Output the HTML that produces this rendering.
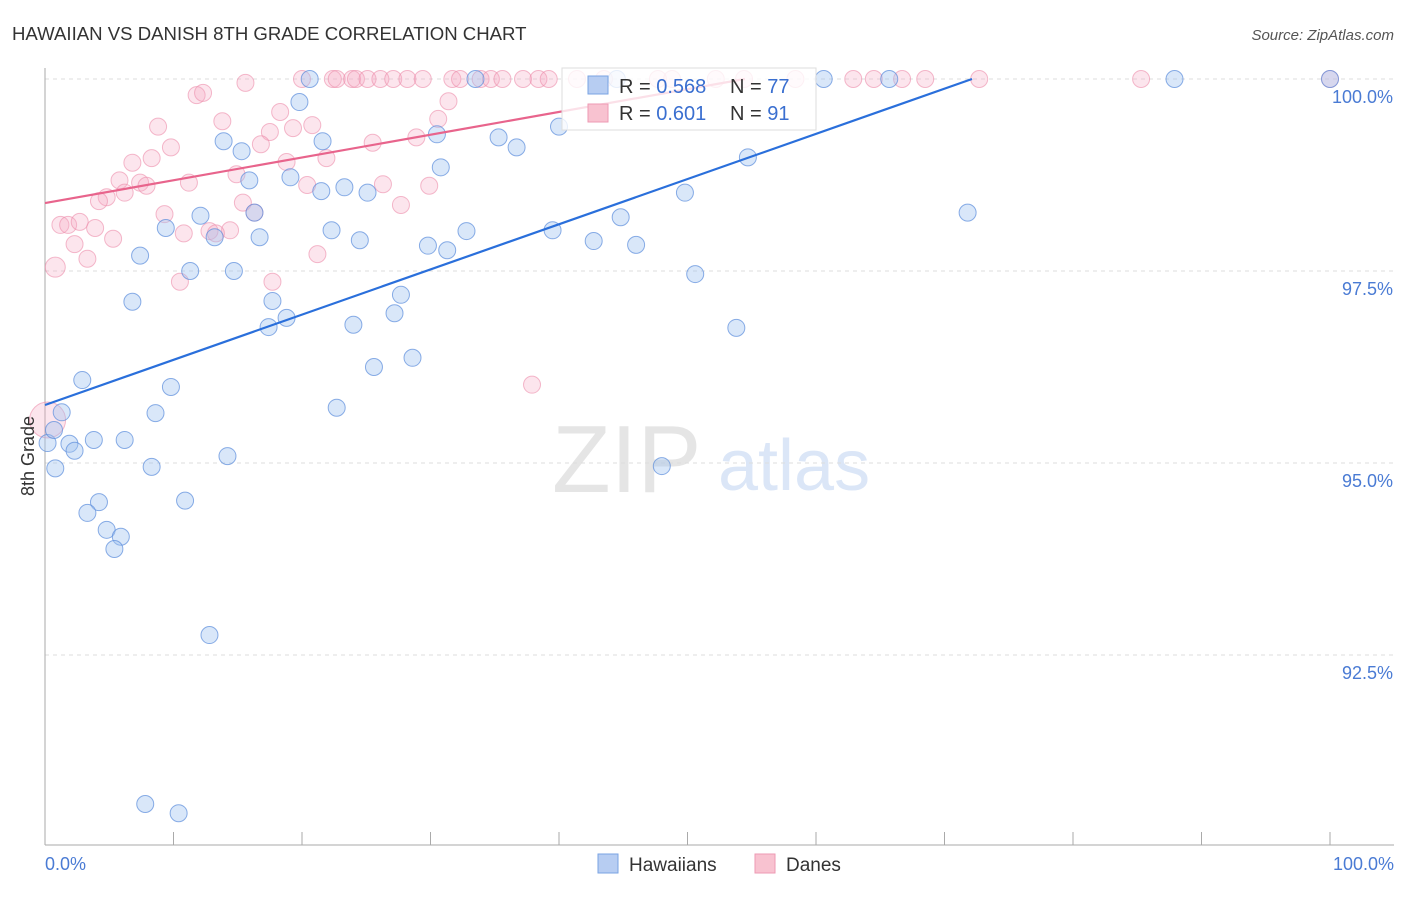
<!DOCTYPE html>
<html><head><meta charset="utf-8"><style>
body{margin:0;background:#fff;font-family:"Liberation Sans",sans-serif;}
svg text{font-family:"Liberation Sans",sans-serif;}
</style></head><body>
<svg id="chart" width="1406" height="892" xmlns="http://www.w3.org/2000/svg">
<text x="12" y="40" font-size="18.6" fill="#333">HAWAIIAN VS DANISH 8TH GRADE CORRELATION CHART</text>
<text x="1394" y="40" font-size="15" fill="#555" text-anchor="end" font-style="italic">Source: ZipAtlas.com</text>
<g opacity="0.5">
<text x="552" y="492" font-size="96" fill="#ccc" font-family="Liberation Serif">ZIP</text>
<text x="718" y="490" font-size="72" fill="#b8cef0">atlas</text>
</g>
<g id="grid"></g><g id="axes"></g><g id="marks"></g>
<text transform="translate(34,456) rotate(-90)" font-size="18" fill="#333" text-anchor="middle">8th Grade</text>
<g>
<rect x="562" y="68" width="254" height="62" fill="#fff" fill-opacity="0.8" stroke="#ddd"/>
<rect x="588" y="76" width="20" height="18" fill="#b7cdf2" stroke="#7aa3e3"/>
<rect x="588" y="104" width="20" height="18" fill="#f8c2d0" stroke="#ee9ab3"/>
<text x="619" y="93" font-size="20" fill="#333">R = <tspan fill="#3a6fd0">0.568</tspan></text>
<text x="730" y="93" font-size="20" fill="#333">N = <tspan fill="#3a6fd0">77</tspan></text>
<text x="619" y="120" font-size="20" fill="#333">R = <tspan fill="#3a6fd0">0.601</tspan></text>
<text x="730" y="120" font-size="20" fill="#333">N = <tspan fill="#3a6fd0">91</tspan></text>
</g>
<g>
<rect x="598" y="854" width="20" height="19" fill="#b7cdf2" stroke="#7aa3e3"/>
<text x="629" y="871" font-size="19" fill="#333">Hawaiians</text>
<rect x="755" y="854" width="20" height="19" fill="#f8c2d0" stroke="#ee9ab3"/>
<text x="786" y="871" font-size="19" fill="#333">Danes</text>
</g>
</svg>
<script>
const yTicks=[100,97.5,95,92.5];
const yTickLabels=["100.0%","97.5%","95.0%","92.5%"];
const xTickLabels=["0.0%","100.0%"];
const hawX=[20.6,33.5,44.5,60.6,65.7,87.9,100,19.8,13.9,15.3,21.6,30.5,35.3,36.7,40.0,30.8,15.9,19.1,21.5,23.3,25.1,49.8,54.7,71.8,12.1,9.4,13.2,16.7,22.3,24.5,29.8,31.3,32.8,39.5,42.7,44.8,46.0,7.4,11.3,14.7,6.8,17.7,18.8,17.4,24.0,27.7,27.2,25.6,28.6,50.6,53.8,2.9,9.8,1.3,8.6,22.7,0.2,1.9,2.3,3.8,6.2,0.8,8.3,14.2,48.0,4.2,10.9,3.3,4.8,5.9,5.4,12.8,7.8,10.4,16.3,0.7];
const hawY=[100,100,100,100,100,100,100,99.70,99.19,99.06,99.19,99.28,99.24,99.11,99.38,98.85,98.68,98.72,98.54,98.59,98.52,98.52,98.98,98.26,98.22,98.06,97.94,97.94,98.03,97.90,97.83,97.77,98.02,98.03,97.89,98.20,97.84,97.70,97.50,97.50,97.10,97.11,96.89,96.77,96.80,97.19,96.95,96.25,96.37,97.46,96.76,96.08,95.99,95.66,95.65,95.72,95.26,95.25,95.16,95.30,95.30,94.93,94.95,95.09,94.96,94.49,94.51,94.35,94.13,94.04,93.88,92.76,90.56,90.44,98.26,95.43];
const danX=[20.0,22.4,22.7,23.9,24.2,25.1,26.1,27.1,28.2,29.4,31.7,32.3,33.9,34.7,35.6,37.2,38.4,39.2,41.4,43.5,47.7,48.8,52.2,54.4,58.4,62.9,64.5,66.7,68.5,72.7,85.3,100,15.6,11.8,12.3,18.3,13.8,31.4,8.8,17.5,19.3,20.8,30.6,9.8,16.8,25.5,28.9,21.9,18.8,8.3,6.8,14.9,5.8,7.4,7.9,11.2,20.4,26.3,29.9,4.8,4.2,6.2,27.7,15.4,9.3,16.3,1.2,1.8,2.7,3.9,10.8,12.8,14.4,5.3,2.3,13.3,3.3,0.8,10.5,17.7,21.2,37.9,0.2];
const danY=[100,100,100,100,100,100,100,100,100,100,100,100,100,100,100,100,100,100,100,100,100,100,100,100,100,100,100,100,100,100,100,100,99.95,99.79,99.82,99.57,99.45,99.71,99.38,99.31,99.36,99.40,99.48,99.11,99.15,99.17,99.24,98.97,98.92,98.97,98.91,98.76,98.68,98.65,98.61,98.65,98.62,98.63,98.61,98.46,98.41,98.52,98.36,98.39,98.24,98.26,98.10,98.10,98.14,98.06,97.99,98.02,98.03,97.92,97.85,97.99,97.66,97.55,97.36,97.36,97.72,96.02,95.56];
const hawTrend=[[0,95.755],[72.14,100]];
const danTrend=[[0,98.385],[54.47,100]];
const NS="http://www.w3.org/2000/svg";
const xs=v=>45+v*12.85;
const ys=v=>79+(100-v)*76.8;
function mk(tag,attrs,parent){const e=document.createElementNS(NS,tag);for(const k in attrs)e.setAttribute(k,attrs[k]);parent.appendChild(e);return e;}
const grid=document.getElementById('grid'),axes=document.getElementById('axes'),marks=document.getElementById('marks');
yTicks.forEach((t,i)=>{
 const l=mk('line',{x1:45,x2:1394,y1:ys(t),y2:ys(t),stroke:'#ddd','stroke-dasharray':'4,4'},grid);
 
 
 const tx=mk('text',{x:1393,y:ys(t)+24,'font-size':18,fill:'#4a7bd4','text-anchor':'end'},axes);
 tx.textContent=yTickLabels[i];
 
 
});
const ax=mk('line',{x1:45,x2:45,y1:68,y2:845,stroke:'#aaa'},axes);


const bx=mk('line',{x1:45,x2:1394,y1:845,y2:845,stroke:'#aaa'},axes);


for(let i=0;i<=10;i++){
 const t=mk('line',{x1:xs(i*10),x2:xs(i*10),y1:832,y2:845,stroke:'#aaa'},axes);
 
 
}
[[0,'start',45],[100,'end',1394]].forEach((d,i)=>{
 const tx=mk('text',{x:d[2],y:870,'font-size':18,fill:'#4a7bd4','text-anchor':d[1]},axes);
 tx.textContent=xTickLabels[i];
 
 
});
danX.forEach((x,i)=>{
 const r=(i===danX.length-1)?18:(danY[i]===97.55?10:8.5);
 const c=mk('circle',{cx:xs(x),cy:ys(danY[i]),r:r,fill:'rgba(246,170,195,0.3)',stroke:'rgba(236,140,170,0.6)','stroke-width':1},marks);
 
 
});
hawX.forEach((x,i)=>{
 const c=mk('circle',{cx:xs(x),cy:ys(hawY[i]),r:8.5,fill:'rgba(160,195,240,0.4)',stroke:'rgba(90,140,220,0.7)','stroke-width':1},marks);
 
 
});
const t1=mk('line',{x1:xs(hawTrend[0][0]),y1:ys(hawTrend[0][1]),x2:xs(hawTrend[1][0]),y2:ys(hawTrend[1][1]),stroke:'#2a6fdb','stroke-width':2.2},marks);


const t2=mk('line',{x1:xs(danTrend[0][0]),y1:ys(danTrend[0][1]),x2:xs(danTrend[1][0]),y2:ys(danTrend[1][1]),stroke:'#e8648c','stroke-width':2.2},marks);


</script>
</body></html>
